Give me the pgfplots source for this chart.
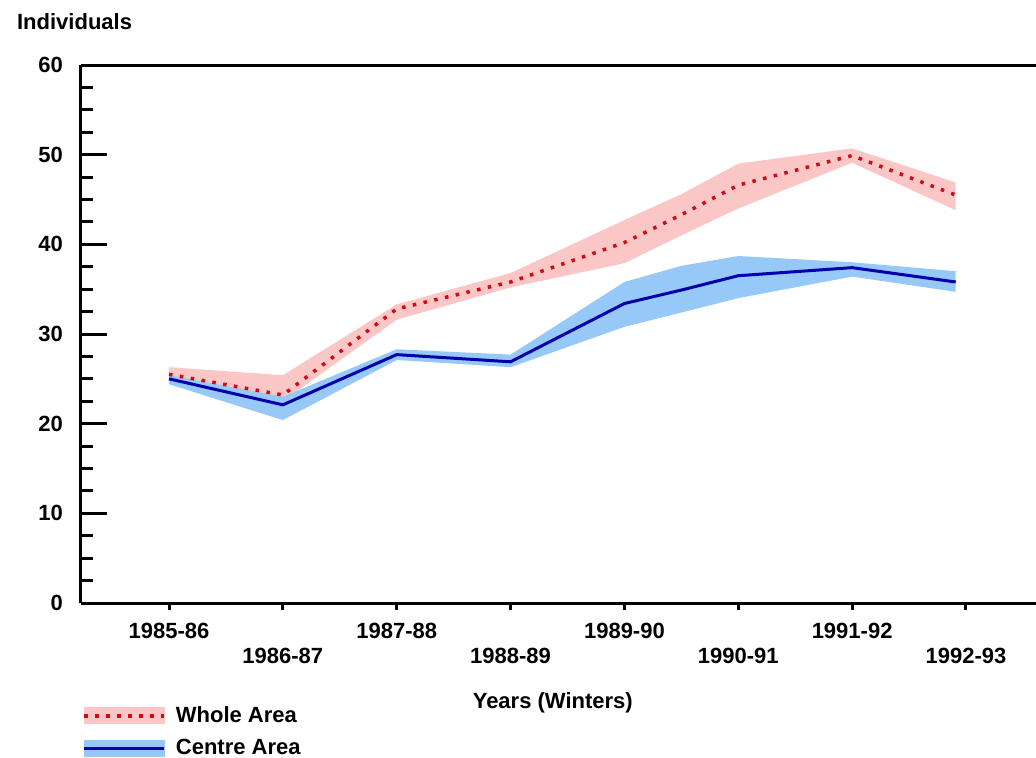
\documentclass[border=0pt]{standalone}
\usepackage{fontspec}
\setmainfont{Liberation Sans}
\usepackage{pgfplots}
\pgfplotsset{compat=1.18}
\definecolor{pinkband}{RGB}{250,198,198}
\definecolor{blueband}{RGB}{150,200,248}
\definecolor{reddot}{RGB}{210,10,20}
\definecolor{navy}{RGB}{0,0,170}
\newcommand{\lf}{\fontsize{11pt}{13pt}\selectfont\bfseries}
\begin{document}
\begin{tikzpicture}
\begin{axis}[
  scale only axis, width=477.5pt, height=269pt,
  xmin=-0.773, xmax=7.615, ymin=0, ymax=60,
  axis x line*=bottom, axis y line*=left,
  axis line style={line width=1.5pt, -},
  ytick={0,10,...,60}, minor y tick num=3,
  tick align=inside, major tick length=13pt, minor tick length=6pt,
  tick style={line width=1.5pt, black},
  xtick={0,2,4,6}, xticklabels={1985-86,1987-88,1989-90,1991-92},
  extra x ticks={1,3,5,7}, extra x tick labels={1986-87,1988-89,1990-91,1992-93},
  extra x tick style={xticklabel style={yshift=-12.5pt}, tick style={draw=none}},
  xtick style={draw=none},
  xticklabel style={font=\lf, yshift=-6.5pt},
  yticklabel style={font=\lf, xshift=-5.5pt},
  /pgf/number format/assume math mode=true,
  clip=false,
  legend style={at={(rel axis cs:0,0)}, anchor=north west, xshift=0.5pt, yshift=-49.5pt,
    draw=none, fill=none, font=\lf, row sep=3pt, inner sep=0pt,
    /tikz/every odd column/.append style={column sep=3pt}},
  legend cell align=left,
]
\addplot[fill=pinkband, draw=none, forget plot] coordinates {
 (0,26.3)(1,25.4)(2,33.3)(3,36.8)(4,42.7)(4.5,45.6)(5,49.0)(6,50.7)(6.91,46.9)
 (6.91,43.8)(6,49.1)(5,44.0)(4.5,41.0)(4,37.9)(3,35.2)(2,31.6)(1,22.5)(0,25.0)} -- cycle;
\addplot[fill=blueband, draw=none, forget plot] coordinates {
 (0,25.4)(1,23.0)(2,28.3)(3,27.7)(4,35.8)(4.5,37.6)(5,38.7)(6,38.0)(6.91,37.0)
 (6.91,34.7)(6,36.4)(5,34.0)(4.5,32.4)(4,30.8)(3,26.3)(2,27.1)(1,20.4)(0,24.4)} -- cycle;
\addplot[navy, line width=1.5pt, forget plot] coordinates {
 (0,25.0)(1,22.1)(2,27.7)(3,26.9)(4,33.4)(4.5,34.9)(5,36.5)(6,37.4)(6.91,35.8)};
\addplot[reddot, line width=1.75pt, dash pattern=on 1.75pt off 3.75pt, forget plot] coordinates {
 (0,25.5)(1,23.2)(2,32.8)(3,35.8)(4,40.2)(4.5,43.3)(5,46.6)(6,49.9)(6.91,45.5)};
\addlegendimage{legend image code/.code={
  \fill[pinkband] (0pt,-4pt) rectangle (40pt,4pt);
  \draw[reddot, line width=1.75pt, dash pattern=on 1.75pt off 3.75pt] (0pt,0pt) -- (40pt,0pt);}}
\addlegendentry{Whole Area}
\addlegendimage{legend image code/.code={
  \fill[blueband] (0pt,-4pt) rectangle (40pt,4pt);
  \draw[navy, line width=1.5pt] (0pt,0pt) -- (40pt,0pt);}}
\addlegendentry{Centre Area}
\pgfplotsinvokeforeach{0,...,7}{\draw[line width=1.5pt] (axis cs:#1,0) -- ++(0pt,-3.5pt);}
\draw[line width=1.5pt] (rel axis cs:0,1) -- (rel axis cs:1,1);
\node[font=\lf] at (rel axis cs:0.494,0) [yshift=-50pt] {Years (Winters)};
\node[font=\lf, anchor=west] at (rel axis cs:-0.0743,1) [yshift=21.5pt] {Individuals};
\coordinate (bl) at (rel axis cs:0,0);
\coordinate (tr) at (rel axis cs:1,1);
\end{axis}
\pgfresetboundingbox
\path ([shift={(-40.5pt,-77.5pt)}]bl) rectangle ([shift={(0pt,32.5pt)}]tr);
\end{tikzpicture}
\end{document}
